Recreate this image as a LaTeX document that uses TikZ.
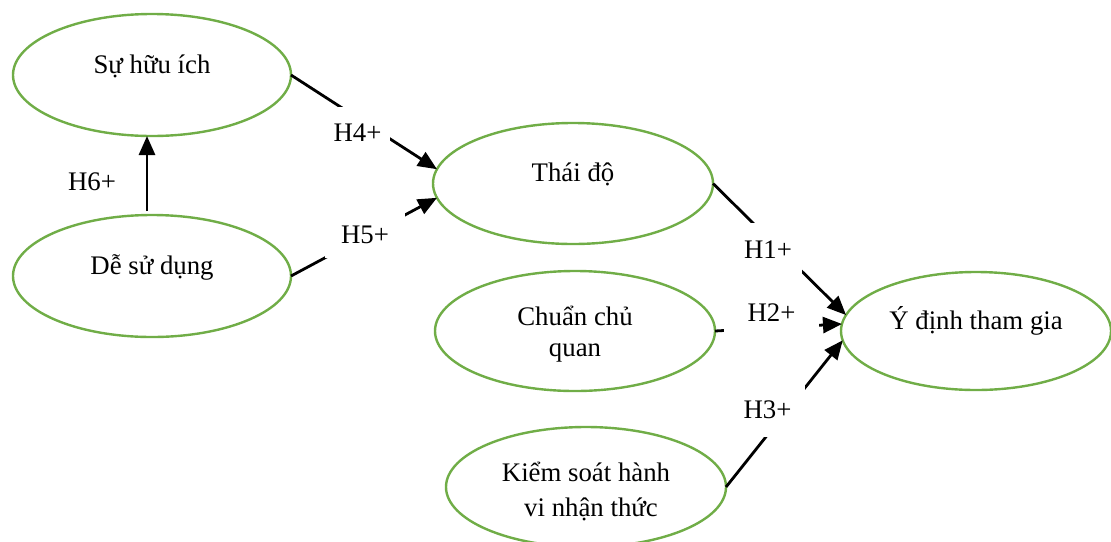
\documentclass[tikz,border=0pt]{standalone}
\usepackage{fontspec}
\setmainfont{Liberation Serif}
\usetikzlibrary{shapes.geometric,arrows.meta}
\definecolor{ovalgreen}{RGB}{112,173,71}
\newcommand{\tnrfont}{\fontsize{13.4}{15.5}\selectfont}
\tikzset{
  oval/.style={ellipse, draw=ovalgreen, line width=1.2pt, inner sep=0pt, outer sep=0pt, font=\tnrfont, align=center},
  oneline/.style={text height=8pt, text depth=10pt},
  intext/.style={font=\tnrfont, align=center, inner sep=0pt},
  link/.style={draw=black, line width=1.4pt},
  arr/.style={link, -{Triangle[length=9.5pt,width=8pt]}},
  hlabel/.style={fill=white, inner sep=0pt, font=\tnrfont}
}
\begin{document}
\begin{tikzpicture}[x=0.5pt,y=-0.5pt]
\useasboundingbox (0,0) rectangle (1111,541);
% ovals
\node[oval, oneline, minimum width=139pt, minimum height=61pt] (sh) at (152,75) {Sự hữu ích};
\node[oval, oneline, minimum width=139pt, minimum height=61pt] (ds) at (152,276) {Dễ sử dụng};
\node[oval, oneline, minimum width=140pt, minimum height=60.5pt] (td) at (573,183.5) {Thái độ};
\node[oval, minimum width=140pt, minimum height=60pt,
      label={[intext, yshift=-1.75pt]center:{Chuẩn chủ\\quan}}] (cq) at (575,331) {};
\node[oval, minimum width=140pt, minimum height=60pt,
      label={[intext, yshift=-2pt]center:{Kiểm soát hành\\[2pt]\hspace{5pt}vi nhận thức}}] (ks) at (586,487) {};
\node[oval, oneline, minimum width=135pt, minimum height=59pt] (yd) at (976,331) {Ý định tham gia};
% connectors
\draw[arr, shorten <=2pt] ([xshift=-2.5pt]ds.north) -- ([xshift=-2.5pt]sh.south);
\draw[arr] (sh.east) -- (td.174);
\draw[arr] (ds.east) -- (td.186);
\draw[arr] (td.east) -- (yd.173);
\draw[arr] (cq.east) -- (yd.177);
\draw[arr] (ks.east) -- (yd.184);
% labels
\node[font=\tnrfont] (h6) at (92,182) {H6+};
\node[hlabel, minimum width=32.5pt, minimum height=25.5pt] (h4) at (357.5,132.5) {H4+};
\node[hlabel, minimum width=40pt, minimum height=23pt] (h5) at (365,235) {H5+};
\node[hlabel, minimum width=34pt, minimum height=27pt] (h1) at (768,250) {H1+};
\node[hlabel, minimum width=47.5pt, minimum height=22.5pt] (h2) at (771.5,312.5) {H2+};
\node[hlabel, minimum width=37.5pt, minimum height=27pt] (h3) at (767.5,410) {H3+};
\end{tikzpicture}
\end{document}
